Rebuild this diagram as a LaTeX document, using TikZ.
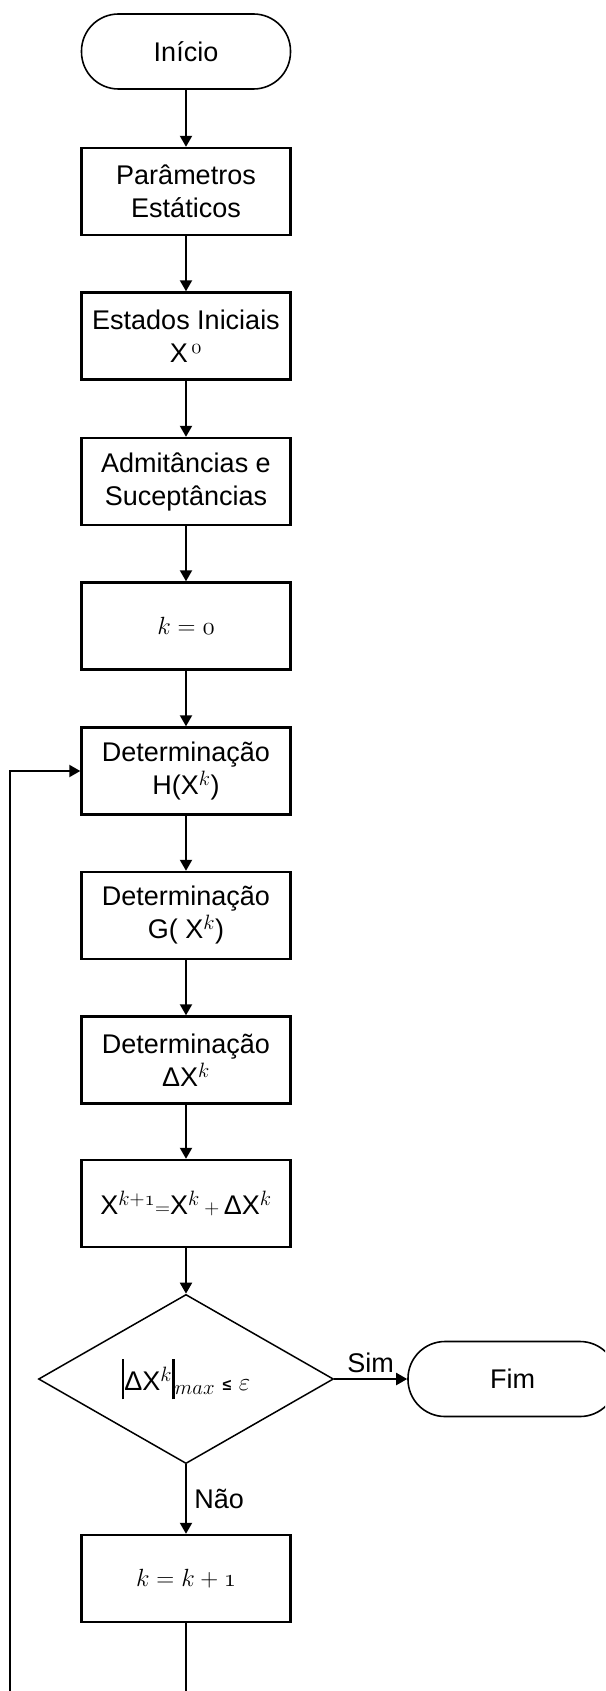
\documentclass[tikz,border=0pt]{standalone}
\usepackage[no-math]{fontspec}
\setmainfont{Liberation Sans}
\usepackage{amsmath}
\usepackage{tikz}
\usetikzlibrary{arrows.meta, positioning, shapes.geometric}

\DeclareMathSizes{27}{31}{21}{16}
% old style digits of the math italic font
\newcommand{\osZero}{\mathchar"0130}
\newcommand{\osOne}{\mathchar"0131}
\newcommand{\tallbar}{\rule[-0.32em]{2.6pt}{1.5em}}

\tikzset{
    proc/.style={draw, line width=2.4pt, minimum width=209pt, minimum height=87pt, align=center, inner sep=2pt},
    term/.style={draw, line width=1.6pt, rounded corners=37pt, minimum width=209pt, minimum height=75pt},
    test/.style={draw, diamond, line width=1.5pt, minimum width=295pt, minimum height=168pt, inner sep=0pt},
    flow/.style={->, line width=2pt},
}

\begin{document}
\begin{tikzpicture}[x=1pt, y=1pt, >={Triangle[length=11pt,width=12pt]}, font=\fontsize{27}{33}\selectfont]
        \useasboundingbox (0,0) rectangle (605,-1691);
        \clip (0,0) rectangle (605,-1691);

        % --- main column ---
        \node[term] (ini)  at (186,-51.5)  {Início};
        \node[proc] (par)  at (186,-191.5) {Parâmetros\\Estáticos};
        \node[proc] (est)  at (186,-336)   {Estados Iniciais\\X$^{\,\osZero}$};
        \node[proc] (adm)  at (186,-481.5) {Admitâncias e\\Suceptâncias};
        \node[proc] (kz)   at (186,-626)   {$k = \osZero$};
        \node[proc] (hx)   at (186,-771)   {Determinação\\H(X$^{k}$)};
        \node[proc] (gx)   at (186,-915.5) {Determinação\\G( X$^{k}$)};
        \node[proc] (dx)   at (186,-1060)  {Determinação\\ΔX$^{k}$};
        \node[proc] (upd)  at (186,-1203.5) {X$^{k+\osOne}$$\scriptstyle=$X$^{k}$\,$\scriptstyle+$\,ΔX$^{k}$};
        \node[test] (conv) at (186,-1379)  {\tallbar ΔX$^{k}$\tallbar$_{max}$ {\fontsize{16}{16}\selectfont\bfseries ≤} $\varepsilon$};
        \node[proc] (kinc) at (186,-1578.5) {$k = k + \osOne$};
        \node[term] (fim)  at (512.5,-1379) {Fim};

        % --- connectors ---
        \draw[flow] (ini) -- (par);
        \draw[flow] (par) -- (est);
        \draw[flow] (est) -- (adm);
        \draw[flow] (adm) -- (kz);
        \draw[flow] (kz) -- (hx);
        \draw[flow] (hx) -- (gx);
        \draw[flow] (gx) -- (dx);
        \draw[flow] (dx) -- (upd);
        \draw[flow] (upd) -- (conv);
        \draw[flow] (conv) -- node[above=2pt] {Sim} (fim);
        \draw[flow] (conv) -- node[right=4pt] {Não} (kinc);

        % --- back to H(X^k) ---
        \coordinate (back) at (10.4,-1730);
        \draw[flow] (kinc.south) |- (back) |- (hx.west);
\end{tikzpicture}
\end{document}
